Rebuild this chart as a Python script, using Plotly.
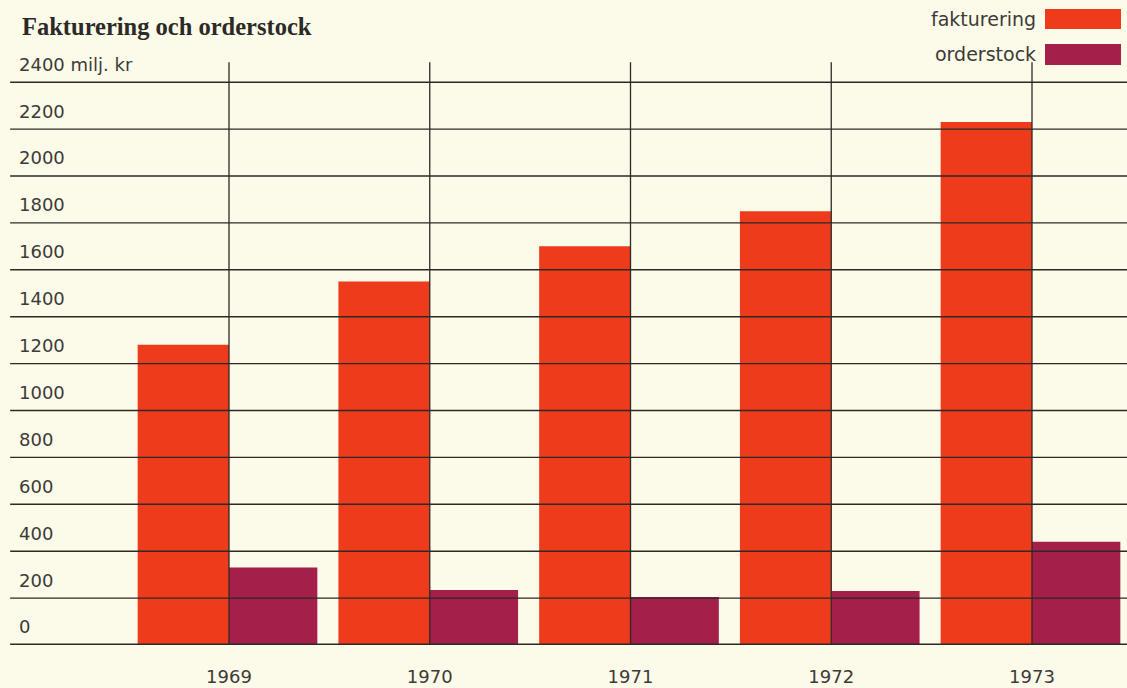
import plotly.graph_objects as go

years = ["1969", "1970", "1971", "1972", "1973"]
fakturering = [1280, 1550, 1700, 1850, 2230]
orderstock = [330, 235, 205, 230, 440]
y_ticks = [0, 200, 400, 600, 800, 1000, 1200, 1400, 1600, 1800, 2000, 2200, 2400]
y_labels = ["0", "200", "400", "600", "800", "1000", "1200", "1400", "1600", "1800",
            "2000", "2200", "2400 milj. kr"]

BG = "#FCFAE9"
ORANGE = "#EE3B1B"
PURPLE = "#A51F4B"
INK = "#2B2A26"
TXT = "#3C3B37"
SANS = "DejaVu Sans"

xs = list(range(len(years)))

fig = go.Figure()
fig.add_trace(go.Bar(x=xs, y=fakturering, name="fakturering", marker_color=ORANGE,
                     marker_line_width=0, width=0.455, offset=-0.455))
fig.add_trace(go.Bar(x=xs, y=orderstock, name="orderstock", marker_color=PURPLE,
                     marker_line_width=0, width=0.44, offset=0))

shapes = []
for t in y_ticks:
    shapes.append(dict(type="line", xref="paper", yref="y", x0=0.009, x1=1, y0=t, y1=t,
                       line=dict(color=INK, width=3 if t == 0 else 1.4), layer="above"))
for x in xs:
    shapes.append(dict(type="line", xref="x", yref="y", x0=x, x1=x, y0=0, y1=2485,
                       line=dict(color=INK, width=1.3), layer="above"))
# legend swatches
shapes.append(dict(type="rect", xref="paper", yref="paper", x0=1045/1127, x1=1121/1127,
                   y0=(645 - 29) / 645, y1=(645 - 9) / 645,
                   fillcolor=ORANGE, line_width=0, layer="above"))
shapes.append(dict(type="rect", xref="paper", yref="paper", x0=1045/1127, x1=1121/1127,
                   y0=(645 - 65) / 645, y1=(645 - 44) / 645,
                   fillcolor=PURPLE, line_width=0, layer="above"))

annotations = []
for t, lab in zip(y_ticks, y_labels):
    annotations.append(dict(xref="paper", yref="y", x=17/1127, y=t + 77, text=lab,
                            showarrow=False, xanchor="left", yanchor="middle",
                            font=dict(family=SANS, size=18, color=TXT)))
annotations.append(dict(xref="paper", yref="paper", x=20/1127, y=(645 - 26) / 645,
                        text="<b>Fakturering och orderstock</b>", showarrow=False,
                        xanchor="left", yanchor="middle",
                        font=dict(family="Liberation Serif", size=24.5, color=INK)))
annotations.append(dict(xref="paper", yref="paper", x=1038/1127, y=(645 - 19) / 645,
                        text="fakturering", showarrow=False, xanchor="right", yanchor="middle",
                        font=dict(family=SANS, size=19, color=TXT)))
annotations.append(dict(xref="paper", yref="paper", x=1038/1127, y=(645 - 54) / 645,
                        text="orderstock", showarrow=False, xanchor="right", yanchor="middle",
                        font=dict(family=SANS, size=19, color=TXT)))

fig.update_layout(
    width=1127, height=688,
    margin=dict(l=0, r=0, t=0, b=43),
    paper_bgcolor=BG, plot_bgcolor=BG,
    showlegend=False,
    shapes=shapes, annotations=annotations,
    xaxis=dict(range=[-229/200.75, (1127-229)/200.75], tickmode="array", tickvals=xs,
               ticktext=years, showgrid=False, zeroline=False, showline=False,
               ticks="outside", ticklen=15, tickcolor=BG,
               tickfont=dict(family=SANS, size=18, color=TXT)),
    yaxis=dict(range=[0, 645/0.2345], showgrid=False, zeroline=False, showline=False,
               showticklabels=False, fixedrange=True),
)

fig.write_html("out.html", config={"displayModeBar": False},
               post_script="document.body.style.margin='0';document.body.style.padding='0';"
                           "document.body.style.overflow='hidden';"
                           "document.body.style.background='" + BG + "';")
